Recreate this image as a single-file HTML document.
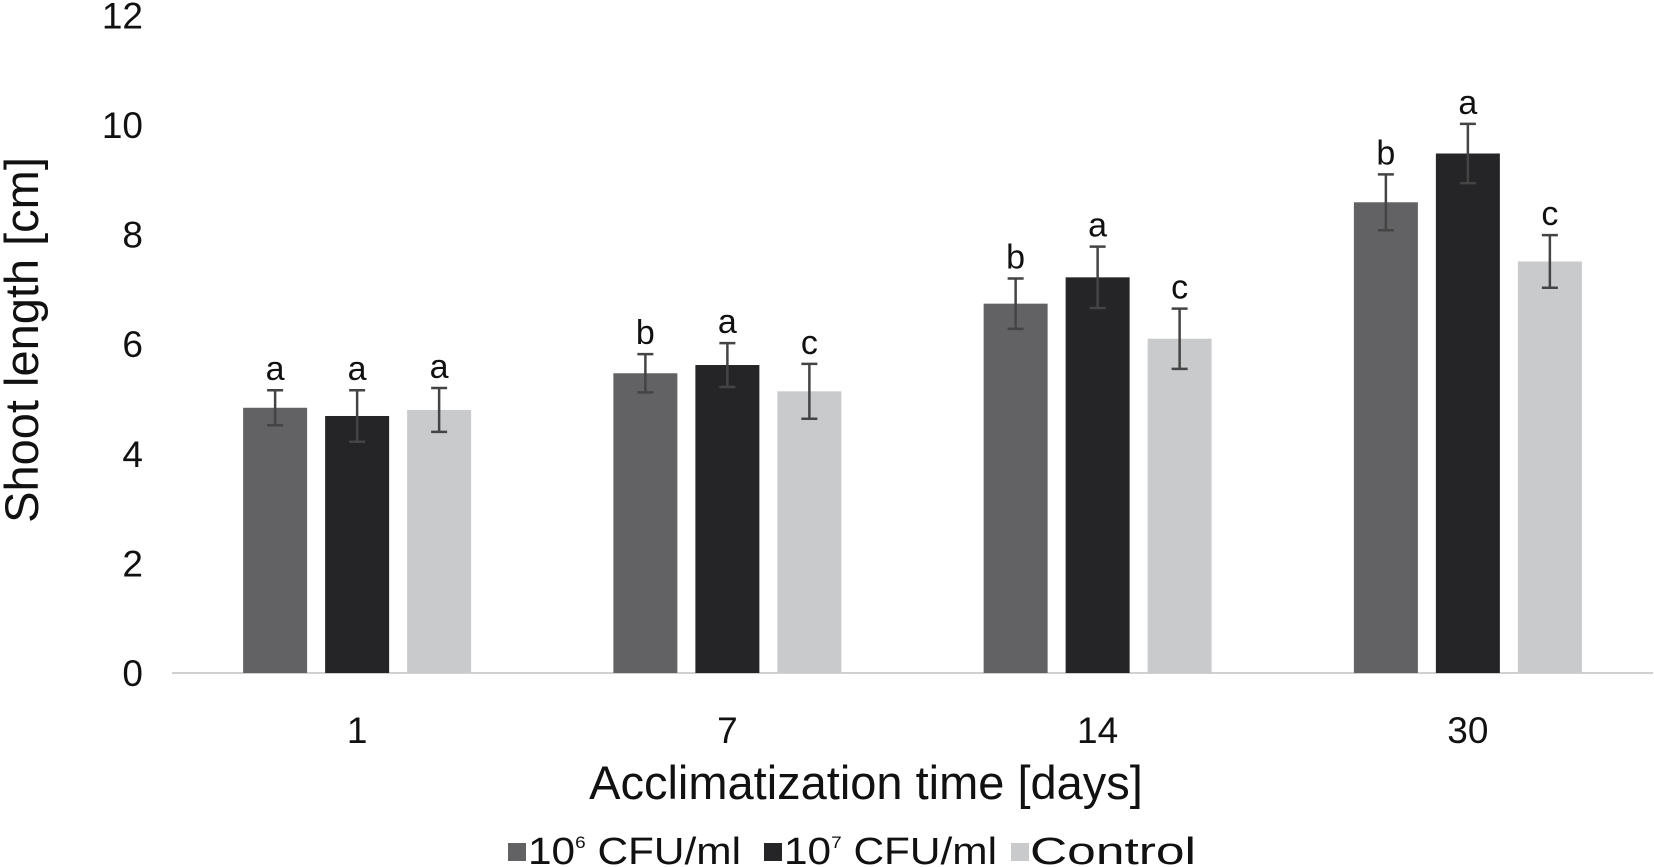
<!DOCTYPE html>
<html><head><meta charset="utf-8"><style>
html,body{margin:0;padding:0;background:#fff;}
svg{display:block;font-family:"Liberation Sans",Arial,sans-serif;}
</style></head><body>
<svg id="chart" width="1654" height="867" viewBox="0 0 1654 867" xmlns="http://www.w3.org/2000/svg">
<g id="yticks"></g>
<line x1="172" y1="673" x2="1653" y2="673" stroke="#d0d0d0" stroke-width="2"/>
<g id="bars"></g>
<g id="xticks"></g>
<text transform="translate(38,340) rotate(-90)" text-anchor="middle" font-size="47" fill="#111">Shoot length [cm]</text>
<text x="866" y="799" text-anchor="middle" font-size="47" fill="#111">Acclimatization time [days]</text>
<g>
<rect x="508" y="843" width="18" height="18" fill="#626264"/>
<text x="528" y="864" font-size="38" textLength="213" lengthAdjust="spacingAndGlyphs" fill="#111">10<tspan dy="-16" font-size="17">6</tspan><tspan dy="16"> CFU/ml</tspan></text>
<rect x="764" y="843" width="18" height="18" fill="#252426"/>
<text x="784" y="864" font-size="38" textLength="213" lengthAdjust="spacingAndGlyphs" fill="#111">10<tspan dy="-16" font-size="17">7</tspan><tspan dy="16"> CFU/ml</tspan></text>
<rect x="1011" y="843" width="18" height="18" fill="#c9cacc"/>
<text x="1030" y="864" font-size="38" textLength="166" lengthAdjust="spacingAndGlyphs" fill="#111">Control</text>
</g>
</svg>
<script>
const categories = ["1","7","14","30"];
const seriesNames = ["10^6 CFU/ml","10^7 CFU/ml","Control"];
const s1Values = [4.84, 5.47, 6.74, 8.59];
const s2Values = [4.69, 5.62, 7.22, 9.48];
const s3Values = [4.80, 5.14, 6.10, 7.51];
const s1Err = [0.32, 0.35, 0.46, 0.51];
const s2Err = [0.47, 0.40, 0.56, 0.54];
const s3Err = [0.40, 0.50, 0.55, 0.48];
const s1Letters = ["a","b","b","b"];
const s2Letters = ["a","a","a","a"];
const s3Letters = ["a","c","c","c"];
const yTicks = [0,2,4,6,8,10,12];

const NS="http://www.w3.org/2000/svg";
const y0=673, pxPerUnit=54.8, plotX0=172, catW=370.25;
function yScale(v){return y0 - v*pxPerUnit;}
function xCenter(i){return plotX0 + catW*(i+0.5);}
function mk(tag,attrs,parent){const e=document.createElementNS(NS,tag);for(const k in attrs)e.setAttribute(k,attrs[k]);parent.appendChild(e);return e;}

const yt=document.getElementById('yticks');
yTicks.forEach(t=>{
  const e=mk('text',{x:143,y:yScale(t)+13,'text-anchor':'end','font-size':'37',fill:'#111'},yt);
  
  
  e.textContent=t;
});
const xt=document.getElementById('xticks');
categories.forEach((c,i)=>{
  const e=mk('text',{x:xCenter(i),y:743,'text-anchor':'middle','font-size':'37',fill:'#111'},xt);
  
  
  e.textContent=c;
});
const bars=document.getElementById('bars');
const series=[[s1Values,s1Err,s1Letters,'#626264'],[s2Values,s2Err,s2Letters,'#252426'],[s3Values,s3Err,s3Letters,'#c9cacc']];
const barW=64, step=82;
categories.forEach((c,i)=>{
  series.forEach((s,j)=>{
    const cx=xCenter(i)+(j-1)*step;
    const v=s[0][i], er=s[1][i];
    const r=mk('rect',{x:cx-barW/2,y:yScale(v),width:barW,height:y0-yScale(v),fill:s[3]},bars);
    
    
    const g=mk('g',{stroke:'#444','stroke-width':'2.5'},bars);
    
    
    mk('line',{x1:cx,x2:cx,y1:yScale(v+er),y2:yScale(v-er)},g);
    mk('line',{x1:cx-8,x2:cx+8,y1:yScale(v+er),y2:yScale(v+er)},g);
    mk('line',{x1:cx-8,x2:cx+8,y1:yScale(v-er),y2:yScale(v-er)},g);
    const t=mk('text',{x:cx,y:yScale(v+er)-10,'text-anchor':'middle','font-size':'34',fill:'#111'},bars);
    
    
    t.textContent=s[2][i];
  });
});
</script>
</body></html>
